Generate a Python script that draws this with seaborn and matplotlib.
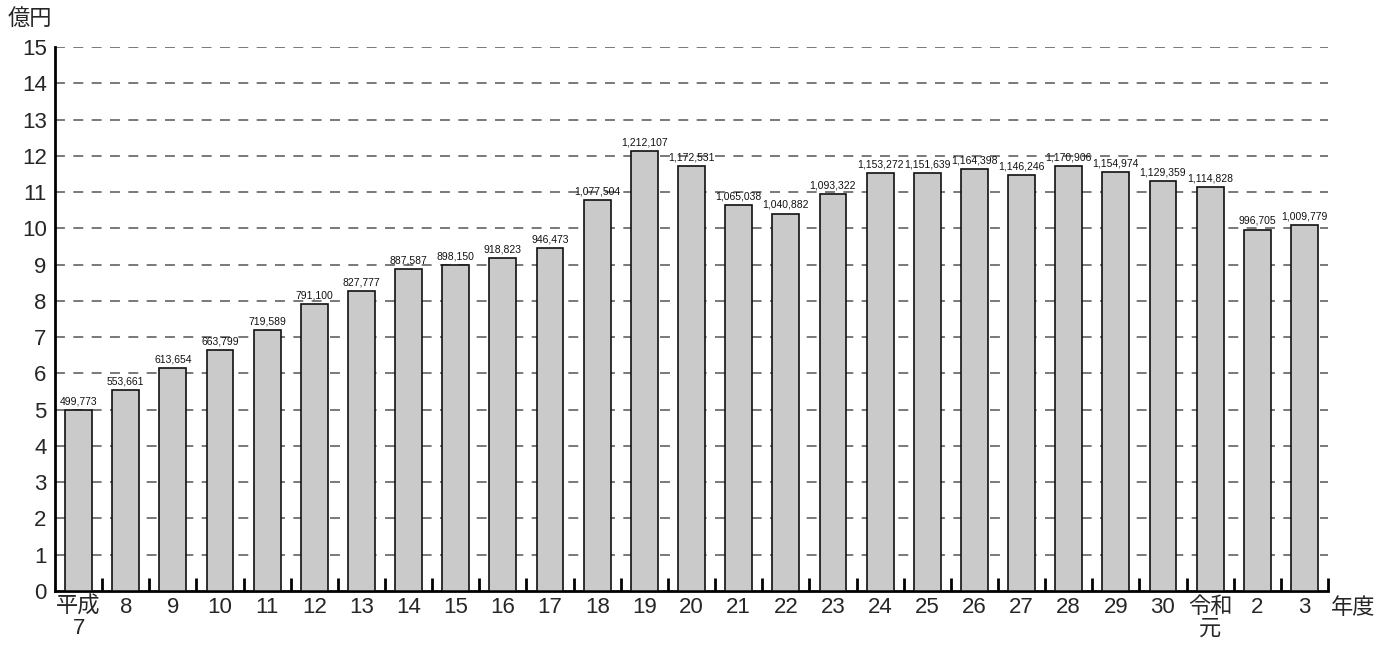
import matplotlib
matplotlib.use("Agg")
import matplotlib.pyplot as plt
import seaborn as sns
import pandas as pd

# 年度別の金額（単位：百万円）
years = ["平成\n7", "8", "9", "10", "11", "12", "13", "14", "15", "16", "17", "18",
         "19", "20", "21", "22", "23", "24", "25", "26", "27", "28", "29", "30",
         "令和\n元", "2", "3"]
amounts = [499773, 553661, 613654, 663799, 719589, 791100, 827777, 887587, 898150,
           918823, 946473, 1077504, 1212107, 1172531, 1065038, 1040882, 1093322,
           1153272, 1151639, 1164398, 1146246, 1170906, 1154974, 1129359, 1114828,
           996705, 1009779]
yticks = list(range(0, 16))

df = pd.DataFrame({"year": years, "amount": amounts})
df["oku"] = df["amount"] / 100000  # 軸目盛の単位に換算

sns.set_theme(style="white")
plt.rcParams["font.family"] = ["Liberation Sans", "Noto Sans CJK JP", "DejaVu Sans"]

fig = plt.figure(figsize=(13.84, 6.48), dpi=100)
ax = fig.add_axes([55 / 1384, 1 - 591 / 648, (1328 - 55) / 1384, (591 - 47) / 648])

sns.barplot(data=df, x="year", y="oku", order=years, color="#cacaca",
            saturation=1, width=0.57, edgecolor="#111111", linewidth=1.2,
            ax=ax, zorder=3)

# 破線の目盛線
for v in yticks[1:]:
    ax.axhline(v, color="#555555", lw=1.1, dashes=(6.5, 5.5), zorder=1)

ax.set_xlim(-0.5, len(years) - 0.5)
ax.set_ylim(0, 15)

# 数値ラベル
for i, (v, h) in enumerate(zip(amounts, df["oku"])):
    ax.text(i, h + 0.1, f"{v:,}", ha="center", va="bottom", fontsize=7.5,
            color="#111111", zorder=4)

# 軸
for s in ["top", "right"]:
    ax.spines[s].set_visible(False)
for s in ["left", "bottom"]:
    ax.spines[s].set_color("#000000")
    ax.spines[s].set_linewidth(2)

ax.set_yticks(yticks)
ax.set_yticklabels([str(t) for t in yticks], fontsize=16)
ax.tick_params(axis="y", direction="in", length=13, width=2, color="#000000", pad=6)

ax.set_xticks(range(len(years)))
ax.set_xticklabels(years, fontsize=16, linespacing=1.05)
ax.tick_params(axis="x", which="major", length=0, pad=4)
ax.set_xticks([i + 0.5 for i in range(len(years))], minor=True)
ax.tick_params(axis="x", which="minor", direction="in", length=9.5, width=2,
               color="#000000", bottom=True)

ax.set_xlabel("")
ax.set_ylabel("")
fig.text(8 / 1384, 1 - 19 / 648, "億円", fontsize=16, ha="left", va="center")
fig.text(1331 / 1384, 1 - 609 / 648, "年度", fontsize=16, ha="left", va="center")

fig.savefig("out.png", dpi=100)
